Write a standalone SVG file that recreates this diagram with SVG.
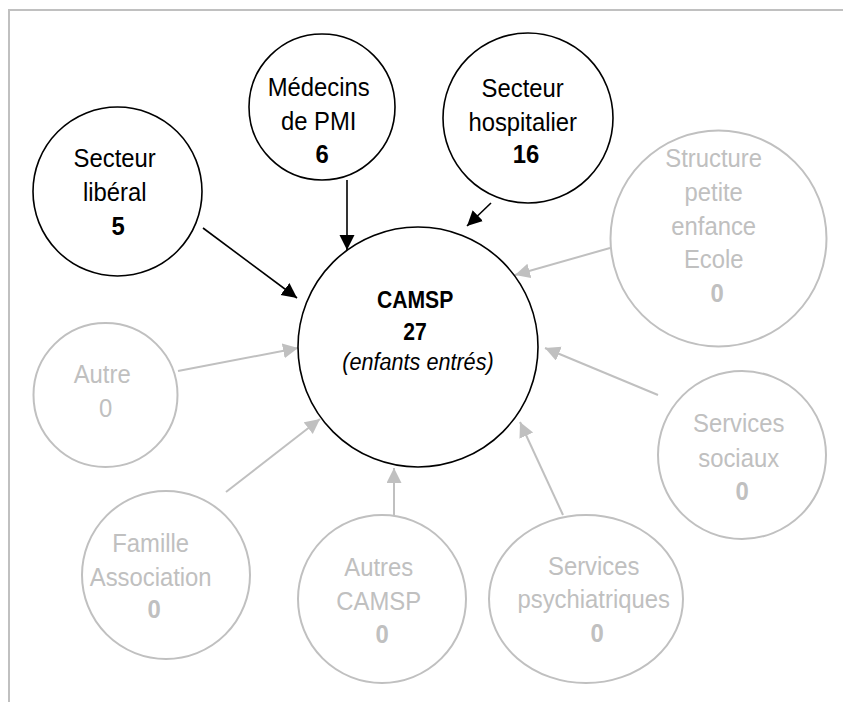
<svg xmlns="http://www.w3.org/2000/svg" width="843" height="702" viewBox="0 0 843 702">
<style>
  .blk { fill: #fff; stroke: #000; stroke-width: 1.6; }
  .gry { fill: #fff; stroke: #c0c0c0; stroke-width: 2; }
  .t { font-family: "Liberation Sans", Arial, sans-serif; font-size: 26.5px; text-anchor: middle; }
  .tb { fill: #000; }
  .tg { fill: #c0c0c0; }
  .b { font-weight: bold; }
  .lb { stroke: #000; stroke-width: 1.6; fill: none; marker-end: url(#ab); }
  .lg { stroke: #c0c0c0; stroke-width: 2; fill: none; marker-end: url(#ag); }
</style>
<defs>
  <marker id="ab" markerUnits="userSpaceOnUse" markerWidth="16" markerHeight="16" refX="15" refY="7.5" orient="auto">
    <path d="M0,0 L15,7.5 L0,15 z" fill="#000"/>
  </marker>
  <marker id="ag" markerUnits="userSpaceOnUse" markerWidth="16" markerHeight="16" refX="15" refY="7.5" orient="auto">
    <path d="M0,0 L15,7.5 L0,15 z" fill="#c0c0c0"/>
  </marker>
</defs>
<rect x="0" y="0" width="843" height="702" fill="#fff"/>
<path d="M843,10 L9,10 L9,702" fill="none" stroke="#c0c0c0" stroke-width="2"/>

<g id="connectors">
  <line class="lb" x1="203" y1="228" x2="297" y2="298"/>
  <line class="lb" x1="347" y1="180" x2="347" y2="250"/>
  <line class="lb" x1="491" y1="203" x2="467" y2="226"/>
  <line class="lg" x1="610" y1="248" x2="515" y2="275"/>
  <line class="lg" x1="178" y1="371" x2="298" y2="348"/>
  <line class="lg" x1="226" y1="492" x2="320" y2="419"/>
  <line class="lg" x1="394" y1="515" x2="394" y2="468"/>
  <line class="lg" x1="563" y1="515" x2="520" y2="422"/>
  <line class="lg" x1="658" y1="395" x2="545" y2="348"/>
</g>

<g id="camsp">
  <circle class="blk" cx="418" cy="347" r="120"/>
  <text class="t tb" transform="translate(418,0) scale(0.9,1)" style="font-size:23.5px">
    <tspan x="0" y="308" class="b">CAMSP</tspan>
    <tspan x="0" y="340" class="b">27</tspan>
    <tspan x="0" y="370" style="font-style:italic;font-size:24px">(enfants entrés)</tspan>
  </text>
</g>

<g id="secteur-liberal">
  <circle class="blk" cx="117.5" cy="191.5" r="84.5"/>
  <text class="t tb" transform="translate(118,0) scale(0.9,1)">
    <tspan x="0" y="167">Secteur</tspan>
    <tspan x="0" y="201">libéral</tspan>
    <tspan x="0" y="235" class="b">5</tspan>
  </text>
</g>

<g id="medecins-pmi">
  <circle class="blk" cx="322" cy="107" r="73"/>
  <text class="t tb" transform="translate(322,0) scale(0.9,1)">
    <tspan x="0" y="96">Médecins</tspan>
    <tspan x="0" y="130">de PMI</tspan>
    <tspan x="0" y="163" class="b">6</tspan>
  </text>
</g>

<g id="secteur-hospitalier">
  <circle class="blk" cx="528" cy="118" r="85"/>
  <text class="t tb" transform="translate(526,0) scale(0.9,1)">
    <tspan x="0" y="97">Secteur</tspan>
    <tspan x="0" y="131">hospitalier</tspan>
    <tspan x="0" y="163" class="b">16</tspan>
  </text>
</g>

<g id="structure-petite-enfance">
  <circle class="gry" cx="718.5" cy="238.5" r="108"/>
  <text class="t tg" transform="translate(717,0) scale(0.9,1)">
    <tspan x="0" y="167">Structure</tspan>
    <tspan x="0" y="201">petite</tspan>
    <tspan x="0" y="235">enfance</tspan>
    <tspan x="0" y="268">Ecole</tspan>
    <tspan x="0" y="302" class="b">0</tspan>
  </text>
</g>

<g id="autre">
  <circle class="gry" cx="105.5" cy="395" r="72"/>
  <text class="t tg" transform="translate(105.5,0) scale(0.9,1)">
    <tspan x="0" y="383">Autre</tspan>
    <tspan x="0" y="417">0</tspan>
  </text>
</g>

<g id="services-sociaux">
  <circle class="gry" cx="742" cy="455" r="84"/>
  <text class="t tg" transform="translate(742,0) scale(0.9,1)">
    <tspan x="0" y="432">Services</tspan>
    <tspan x="0" y="467">sociaux</tspan>
    <tspan x="0" y="500" class="b">0</tspan>
  </text>
</g>

<g id="famille-association">
  <circle class="gry" cx="166" cy="575" r="84"/>
  <text class="t tg" transform="translate(154,0) scale(0.9,1)">
    <tspan x="0" y="552">Famille</tspan>
    <tspan x="0" y="586">Association</tspan>
    <tspan x="0" y="618" class="b">0</tspan>
  </text>
</g>

<g id="autres-camsp">
  <circle class="gry" cx="382" cy="599" r="84"/>
  <text class="t tg" transform="translate(382,0) scale(0.9,1)">
    <tspan x="0" y="576">Autres</tspan>
    <tspan x="0" y="610">CAMSP</tspan>
    <tspan x="0" y="643" class="b">0</tspan>
  </text>
</g>

<g id="services-psychiatriques">
  <ellipse class="gry" cx="586" cy="599" rx="97" ry="84"/>
  <text class="t tg" transform="translate(597,0) scale(0.9,1)">
    <tspan x="0" y="575">Services</tspan>
    <tspan x="0" y="608">psychiatriques</tspan>
    <tspan x="0" y="642" class="b">0</tspan>
  </text>
</g>
</svg>
